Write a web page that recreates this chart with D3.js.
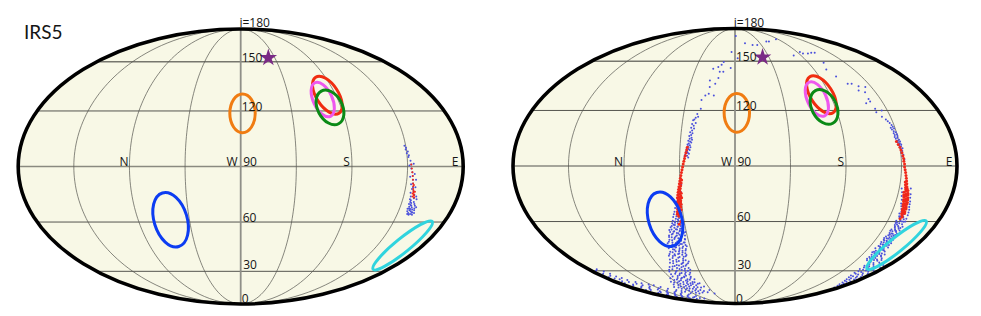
<!DOCTYPE html>
<html><head><meta charset="utf-8">
<style>html,body{margin:0;padding:0;background:#fff}svg{display:block}text{font-family:"Open Sans","Noto Sans",sans-serif;fill:#151515}</style>
<script src="https://cdn.jsdelivr.net/npm/d3@7"></script>
</head><body><svg id="c" width="981" height="316"></svg>
<script>
const parallels=[30,60,90,120,150];
const meridians=[-135,-90,-45,0,45,90,135];
const tickLabels=["0","30","60","90","120","150","i=180"];
const tickValues=[0,30,60,90,120,150,180];
const compass=[["N",-90],["W",0],["S",90],["E",180]];
const star=[36.5,152.7];
const ellipseNames=["blue","orange","red","magenta","green","cyan"];
const ellipseColors=["#0c3cf2","#f07c12","#f02c10","#ee58ee","#0a8a16","#30d4de"];
const ellipseLon=[-61.5,1.6,82,76,80,160];
const ellipseInc=[61.3,118.7,129,126.5,122,46.5];
const ellipseMajor=[22.7,15.7,17.4,15,15,30.8];
const ellipseMinor=[13.4,10.3,8.9,7.7,10,5.7];
const ellipseTilt=[-17,0,-33,-25,-28,51];

// Left panel: short arc
const blueA=[[134,101],[135,100],[134.5,99],[136,98],[135,97],[136.5,96],[136,95],[137.5,93],[138,91],[138,89],[139,87],[139.5,85],[140,83],[140.5,81],[141,79],[142,77],[140,76],[143.5,75],[141,74],[144,73],[142,72],[145,71],[143,70.5],[146,70],[141.5,70],[144,69],[147,69],[142.5,68.5],[145,68],[143,67.5],[147.5,67.5],[146,67],[144,66.5],[148,66.5],[142.5,66],[145.5,66],[147,65.5],[144,65],[149,65],[146,64.5],[143.5,64.5],[148,64],[145,64],[142,71],[146.5,72.5],[141,72.5],[145.5,74],[140.5,78],[143,79],[139,80.5],[142.5,83],[137.5,84.5],[141,86],[136.5,90.5],[140,91.5],[144.2,67.2],[146.8,65.2],[143.2,69.4],[148.6,68.2],[141.8,67.4]];
const redA=[[138,91],[138.5,89],[139,87],[139.5,85],[140,83],[140.5,81],[141,79.5],[141.5,78],[142,77],[142.5,76],[143,75],[143.5,74.5],[142.5,74],[144,73.5],[141.8,75.6],[143.4,76.6],[141.4,80.2]];

// Right panel: two arcs
const blueArcW=[[2,170],[-5,156.5],[3.5,152],[-14,149.5],[-16,147.5],[-19.5,146],[-25,145],[-17,143],[-13,143],[-5,145.5],[-26,137.5],[-20,135.5],[-17.5,139],[-25,133.5],[-28,128.5],[-31,126],[-25,129.5],[-20,128.5],[-30.5,121],[-32,116.5],
[-33,118],[-34,116],[-35,115],[-36,114.5],[-33.5,113],[-36.5,112.5],[-35,111.5],[-37,110.5],[-34.5,110],[-36,109],[-37.5,108],[-35.5,107.5],[-36.5,106.5],[-38,106],[-36,105],[-37.5,104.5],[-35.5,104],[-38.5,103.5],[-37,103],[-36,102.5],[-38,102],[-39,101.5],[-37,101],[-38.5,100.5],[-36.5,100],[-39.5,99.5],[-38,99],[-37,98.5],[-39,98],[-40,97.5],[-38.5,97],[-37.5,96.5],[-40.5,96],[-39,95.5],[-41,95],[-38,94.5],
[-44,80],[-46,78],[-44.5,76],[-47,75],[-45,73.5],[-48,73],[-46,71.5],[-49,71],[-47,70],[-50,69.5],[-46,68.5],[-48,68],[-51,67.5],[-46.5,66.5],[-49,66],[-52,65.5],[-47.5,65],[-50,64.5],[-53,64],[-48,63.5],[-51,63],[-46.5,62.5],[-54,62.5],[-49,62],[-52,61.5],[-47,61],[-55,60.5],[-50,60.5],[-53,60],[-48,59.5],[-56,59],[-51,59],[-46,58.5],[-54,58],[-49,57.5],[-57,57.5],[-52,57],[-47,56.5],[-55,56.5],[-50,56],[-58,55.5],[-53,55.5],[-48,55],[-56,54.5],[-51,54.5],[-60,54],[-46,54],[-54,53.5],[-49,53],[-58,53],[-52,52.5],[-62,52],[-47,52],[-56,51.5],[-50,51.5],[-60,51],[-54,50.5],[-48,50],[-58,50],[-63,49.5],[-52,49],[-56,48.5],[-50,48],[-61,48],[-66,47.5],[-54,47],[-58,46.5],[-49,46.5],[-63,46],[-52,45.5],[-60,45],[-56,44.5],[-67,44.5],[-50,44],[-62,43.5],[-54,43],[-58,42.5],[-65,42],[-52,41.5],[-60,41],[-69,41],[-56,40.5],
[-64,40],[-53,39.5],[-60,39],[-68,38.5],[-57,38],[-72,37.5],[-55,37],[-63,36.5],[-66,36],[-59,35.5],[-71,35],[-54,35],[-62,34.5],[-68,34],[-58,33.5],[-74,33],[-64,32.5],[-56,32],[-70,32],[-61,31.5],[-77,31],[-66,30.5],[-59,30],[-73,30],[-83,29.5],[-63,29],[-69,28.5],[-78,28],[-60,27.5],[-74,27],[-66,26.5],[-85,26],[-70,25.5],[-62,25],[-80,25],[-76,24.5],[-68,24],[-88,23.5],[-58,24],[-72,23],[-83,22.5],[-64,22],[-78,22],[-93,21.5],[-69,21],[-55,21],[-86,20.5],[-75,20],[-98,20],[-63,19.5],[-81,19],[-52,18.5],[-91,18.5],[-70,18],[-104,18],[-59,17.5],[-85,17],[-76,16.5],[-96,16.5],[-48,15.5],[-65,15.5],[-110,15.5],[-88,15],[-72,14.5],[-100,14],[-56,13.5],[-82,13],[-44,12.5]];
const blueDenseW=[[-50.3,61.2],[-47.8,60.1],[-53.4,59.3],[-49.2,58.7],[-55.1,58.2],[-46.6,57.9],[-51.7,57.2],[-58.3,56.8],[-48.9,56.1],[-53.9,55.7],[-60.2,55.2],[-50.6,54.9],[-56.8,54.2],[-47.4,53.6],[-52.8,53.3],[-59.1,52.7],[-54.6,52.1],[-49.9,51.7],[-62.4,51.2],[-57.3,50.7],[-51.4,50.2],[-47.9,49.7],[-60.6,49.2],[-54.2,48.8],[-64.3,48.4],[-49.1,47.9],[-57.9,47.6],[-52.3,47.1],[-61.7,46.7],[-55.6,46.2],[-48.2,45.7],[-65.4,45.3],[-59.2,45.1],[-53.1,44.6],[-63.2,43.9],[-56.9,43.4],[-50.8,43.1],[-61.3,42.7],[-67.2,42.3],[-54.7,41.9],[-58.6,41.3],[-63.9,40.8],[-51.6,40.4],[-66.6,39.7],[-55.4,39.2],[-61.8,38.6],[-70.7,39.9],[-57.8,36.9],[-65.1,37.3],[-52.2,36.2],[-69.4,36.6],[-60.3,35.1],[-74.2,35.4],[-56.4,34.2],[-65.8,33.6],[-71.3,33.2],[-61.2,33.1],[-78.1,32.6],[-55.2,30.8],[-67.9,31.2],[-62.7,30.2],[-75.4,29.2],[-81.2,30.8],[-57.6,28.7],[-71.8,28.1],[-65.3,27.8],[-84.1,27.6],[-77.6,26.3],[-69.2,26.1],[-60.4,25.9],[-90.7,24.8],[-73.6,25.2],[-65.2,23.6],[-83.2,23.9],[-78.9,23.2],[-70.4,22.6],[-61.5,21.7],[-96.3,22.1],[-87.4,21.6],[-74.3,21.1],[-66.6,20.4],[-81.6,20.2],[-91.5,19.7],[-58.3,20.6],[-71.8,19.4],[-77.2,18.4],[-86.7,18.1],[-64.4,17.8],[-97.8,17.6],[-81.1,16.7],[-70.5,16.4],[-91.2,15.8],[-75.8,15.1],[-60.3,14.7],[-104.3,14.6],[-84.6,14.2],[-67.4,13.2],[-95.1,12.6],[-77.3,12.3]];
const blueStreak=[[-174,30],[-170,31],[-166,29.5],[-172,28],[-163,28],[-168,26.5],[-174,25.5],[-162,26],[-158,25],[-170,24.5],[-165,24],[-156,23.5],[-168,22.5],[-160,22],[-150,22],[-171,21],[-155,20.5],[-145,21],[-163,20],[-138,20],[-150,19.5],[-168,19],[-132,19.5],[-157,18.5],[-143,18.5],[-127,18],[-163,17.5],[-149,17.5],[-135,17],[-154,16.5],[-121,16.5],[-142,16],[-167,15.5],[-158,15.5],[-130,15],[-147,14.5],[-116,14.5],[-137,14],[-152,13.5],[-124,13.5],[-161,13],[-141,13],[-112,13],[-130,12.5],[-148,12],[-120,12],[-155,11.5],[-136,11.5],[-105,11.5],[-126,11],[-144,10.5],[-114,10.5],[-165,10],[-132,10],[-97,10],[-150,9.5],[-122,9.5],[-108,9],[-140,9],[-128,8.5],[-116,8.5],[-156,8],[-101,8],[-135,7.5],[-92,7.5],[-120,7]];
const blueArcE=[[18,163.5],[30,162],[38,162],[60,165],[65,165],[86,167],[80,154],[94,156.5],[96,155.5],[103,155.5],[109,156],[114,156],[109,149],[104,144.5],[108,140],[114,135.5],[118,135.5],[123,134],[120,131.5],[129,133.5],[125,130.5],[124,126.5],[119.5,124],[124,125],[125,121],[124.5,119],[130,120],[127.6,116.5],[132,113],[133,112],[133,108.5],
[130,115],[131,114],[133.5,111],[131.5,110.5],[134,110],[132,109.5],[134.5,108],[132.5,107.5],[135,107],[133,106.5],[135,106],[132.5,105.5],[134.5,105],[133,104.5],[135.5,104],[134,103.5],[136,103],[134,102.5],[135.5,102],[136.5,101.5],[134.5,101],[136,100.5],[135,100],[137,99.5],[135.5,99],[136.5,98],[135.5,97],[137,96],[136,95],[137.5,93.5],
[137,78],[144.5,78],[138,76],[145.5,75],[138.5,74],[146,73],[139.5,72],[147,71],[140,70],[147.5,69.5],[141,68.5],[148,68],[142,67],[149,66.5],[143,65.5],[149.5,65],[142,64.5],[146,64],[150,63.5],[143,63],[147,62.5],[144,62],[150.5,61.5],[145.5,61],[142.5,60.5],[148,60],[151,60],[144,59.5],[146.5,59],[149.5,58.5],[143.5,58],[147,57.5],[151.5,57],[145,56.5],[149,56],[143,55.5],[147,55],[151,55],[145,54.5],[149,54],[143.5,53.5],[147,53],[151,53],[145,52.5],[149,52],[142.5,51.5],[146.5,51],[150.5,51],[144.5,50.5],[148.5,50],[152,49.5],[143,49.5],[146.5,49],[150,48.5],[145,48],[148,47.5],[153,47.5],[143.5,47],[147,46.5],[151,46],[145,45.5],[149,45],[154,45],[142,44.5],[147,44],[151,43.5],[145,43],[149,42.5],[155,42.5],[143,42],[147,41.5],[152,41],[145,40.5],[150,40],[156,40],[148,39],[153,38.5],[145,38],[150,37.5],[157,37.5],[147,37],[153,36]];
const blueDenseE=[[144.3,62.7],[148.4,61.3],[146.2,60.4],[143.1,59.2],[149.7,59.9],[145.2,58.3],[147.9,56.9],[144.4,57.2],[150.3,56.3],[146.1,55.7],[142.7,54.8],[148.2,54.6],[145.6,53.2],[150.1,52.4],[143.9,52.2],[147.7,51.6],[141.9,50.6],[149.9,50.4],[146.2,50.2],[144.1,49.1],[151.3,48.7],[147.6,48.4],[142.4,48.2],[149.4,47.2],[145.7,46.8],[152.6,46.4],[143.2,45.8],[148.1,45.7],[146.3,44.9],[150.7,44.3],[152.9,43.2],[148.2,43.6],[144.1,42.4],[150.8,41.8],[146.7,41.2],[154.3,41.3],[148.8,40.3],[152.4,39.7],[145.2,39.1],[157.3,39.4],[150.4,38.7],[154.6,37.1],[147.9,38.2],[152.1,36.6],[159.2,36.7],[160.4,38.3],[162.6,37.2],[158.7,40.6]];
const blueLowE=[[153.4,35.8],[158.2,35.3],[164.1,35.6],[170.6,35.1],[155.7,34.4],[161.3,34.1],[167.2,34.6],[173.2,33.9],[152.6,33.4],[158.9,33.1],[164.8,32.9],[169.9,32.6],[155.1,32.2],[161.8,31.8],[175.1,32.1],[166.7,31.4],[152.9,31.2],[158.3,30.7],[171.2,30.7],[163.4,30.2],[155.6,29.7],[168.3,29.6],[176.3,29.4],[160.6,29.2],[153.7,28.7],[165.4,28.4],[172.6,28.2],[157.8,27.9],[162.7,27.4],[169.3,27.1],[155.2,26.8],[176.7,26.7],[160.1,26.2],[165.9,26.1],[172.9,25.7],[157.4,25.4],[168.2,25.1],[162.6,24.8],[175.4,24.6],[159.3,24.1],[170.7,23.9],[165.2,23.6],[177.2,23.2],[161.7,22.9],[172.3,22.4],[167.6,22.1],[163.9,21.6],[175.8,21.2],[169.7,20.8],[166.1,20.2],[178.2,20.1],[172.9,19.6],[168.8,19.1],[175.6,18.4],[171.4,17.7],[177.3,17.1]];
const redW=[[-39,100],[-39.5,98.5],[-40,97],[-40.5,95.5],[-41,94],[-41.5,92.5],[-42,91],[-42.5,89.5],[-43,88],[-43.5,86.5],[-44,85],[-44.5,83.5],[-43.5,82.5],[-45,82],[-44,81],[-45.5,80.5],[-44.5,79.5],[-46,79],[-45,78],[-46.5,77.5],[-45.5,76.5],[-47,76],[-44.5,75.5],[-46,75],[-47.5,74.5],[-45,74],[-46.5,73.5],[-48,73],[-44.5,73],[-46,72.5],[-47.5,72],[-45.5,71.5],[-47,71],[-48.5,70.5],[-46,70.5],[-47.5,70],[-49,69.5],[-45.5,69.5],[-47,69],[-48.5,68.5],[-46,68],[-47.5,67.5],[-49,67],[-46,66.5],[-48,66],[-49.5,65.5],[-47,65],[-48.5,64.5],[-50,64],[-47.5,63.5],[-49,63],[-48,60],[-50,58.5]];
const redE=[[133,103],[134,101.5],[135,100],[135.5,98.5],[136,97],[136.5,95.5],[137,94],[137,92.5],[137.5,91],[137.5,89.5],[138,88],[138.5,86.5],[139,85],[139.5,83.5],[140,82],[139,81.5],[140.5,80.5],[139.5,80],[141,79],[140,78.5],[141.5,78],[140.5,77.5],[142.5,77],[141,76.5],[139.5,76],[143,75.5],[141.5,75],[140,74.5],[143.5,74.5],[142,74],[140.5,73.5],[144,73],[142.5,72.5],[141,72],[144.5,72],[143,71.5],[141.5,71],[145,70.5],[143.5,70],[142,69.5],[145,69.5],[144,69],[142.5,68.5],[145.5,68],[144,67.5],[143,67],[146,67],[144.5,66.5],[143.5,66],[146,65.5],[145,65],[144,64.5],[146.5,64.5],[145,63.5],[146,62.5],[145,61.5]];

const panels=[
 {cx:240.7,cy:166.5,rx:222.5,ry:137.5,blue:blueA,red:redA,title:true},
 {cx:735,cy:166,rx:222,ry:137.5,blue:[...blueArcW,...blueDenseW,...blueStreak,...blueArcE,...blueDenseE,...blueLowE],red:[...redW,...redE],title:false}
];
function theta(inc){
  const phi=(inc-90)*Math.PI/180; let t=phi;
  if(Math.abs(phi)>Math.PI/2-1e-6) return Math.sign(phi)*Math.PI/2;
  for(let k=0;k<40;k++){t-=(2*t+Math.sin(2*t)-Math.PI*Math.sin(phi))/(2+2*Math.cos(2*t));}
  return t;
}
const plane=(lon,inc)=>{const t=theta(inc);return [lon/180*Math.cos(t),Math.sin(t)];};
const svg=d3.select("#c");
const compassGap={N:1,W:3,S:2,E:4.7};
panels.forEach((p,n)=>{
  const x=d3.scaleLinear().domain([-1,1]).range([p.cx-p.rx,p.cx+p.rx]);
  const y=d3.scaleLinear().domain([-1,1]).range([p.cy+p.ry,p.cy-p.ry]);
  const deg=d3.scaleLinear().domain([0,180]).range([0,222]);
  const pt=(lon,inc)=>{const q=plane(lon,inc);return [x(q[0]),y(q[1])];};
  const line=d3.line();
  const g=svg.append("g");
  const incs=d3.range(0,180.01,2);
  g.append("ellipse").attr("cx",x(0)).attr("cy",y(0)).attr("rx",x(1)-x(0)).attr("ry",y(0)-y(1)).attr("fill","#f8f8e6");
  parallels.forEach(i=>{
    g.append("path").attr("d",line([pt(-180,i),pt(180,i)])).attr("fill","none")
     .attr("stroke",i==90?"#8a8a80":(i==150?"#77776e":"#55554f")).attr("stroke-width",i==90||i==150?1.5:1);
  });
  meridians.forEach(m=>{
    g.append("path").attr("d",line(incs.map(i=>pt(m,i)))).attr("fill","none")
     .attr("stroke",m==0?"#8f8f88":"#55554f").attr("stroke-width",m==0?1.8:0.7);
  });
  g.append("g").selectAll("circle").data(p.blue).join("circle")
    .attr("cx",d=>pt(d[0],d[1])[0]).attr("cy",d=>pt(d[0],d[1])[1]).attr("r",1).attr("fill","#4a50dc");
  g.append("g").selectAll("circle").data(p.red).join("circle")
    .attr("cx",d=>pt(d[0],d[1])[0]).attr("cy",d=>pt(d[0],d[1])[1]).attr("r",n==0?1:1.5).attr("fill","#f0281a");
  g.append("g").selectAll("ellipse").data(ellipseNames).join("ellipse")
    .attr("rx",(d,k)=>deg(ellipseMinor[k])).attr("ry",(d,k)=>deg(ellipseMajor[k]))
    .attr("transform",(d,k)=>{const c=pt(ellipseLon[k],ellipseInc[k]);return `translate(${c[0]},${c[1]}) rotate(${ellipseTilt[k]})`;})
    .attr("fill","none").attr("stroke",(d,k)=>ellipseColors[k]).attr("stroke-width",3);
  g.append("ellipse").attr("cx",x(0)).attr("cy",y(0)).attr("rx",x(1)-x(0)).attr("ry",y(0)-y(1)).attr("fill","none").attr("stroke","#000").attr("stroke-width",3.6);
  const s=pt(star[0],star[1]);
  g.append("path").attr("d",d3.symbol(d3.symbolStar,95)()).attr("transform",`translate(${s[0]},${s[1]})`).attr("fill","#7a2a85");
  const dxs={"0":1,"30":2.5,"60":2,"90":2.5,"120":1,"150":1,"i=180":0};
  const dys={"0":-1,"30":-2,"60":-0.5,"90":-0.5,"120":0,"150":0,"i=180":-2};
  tickLabels.forEach((t,k)=>{
    const c=pt(0,tickValues[k]);
    g.append("text").attr("x",c[0]+dxs[t]).attr("y",c[1]+dys[t]).attr("text-anchor",t=="i=180"?"middle":"start")
      .attr("font-size",12).text(t).attr("dx",t=="i=180"?14:0);
  });
  compass.forEach(([t,lon])=>{
    const c=pt(lon,90);
    g.append("text").attr("x",c[0]-compassGap[t]).attr("y",c[1]-0.5).attr("text-anchor","end").attr("font-size",12).text(t);
  });
  if(p.title) g.append("text").attr("x",24).attr("y",38.5).attr("font-size",19).style("font-family","Lato,'Open Sans',sans-serif").text("IRS5");
});
</script></body></html>
